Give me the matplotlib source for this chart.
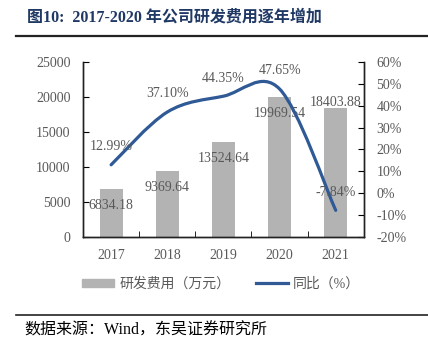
import matplotlib
matplotlib.use("Agg")
import matplotlib.pyplot as plt
import numpy as np
from matplotlib.path import Path
from matplotlib.patches import PathPatch, Patch
from matplotlib.lines import Line2D

years = ["2017", "2018", "2019", "2020", "2021"]
rd_cost = [6834.18, 9369.64, 13524.64, 19969.54, 18403.88]
yoy = [12.99, 37.10, 44.35, 47.65, -7.84]
bar_labels = ["6834.18", "9369.64", "13524.64", "19969.54", "18403.88"]
yoy_labels = ["12.99%", "37.10%", "44.35%", "47.65%", "-7.84%"]

plt.rcParams['font.family'] = ['Liberation Serif', 'Noto Sans CJK SC']
bar_color = "#b3b3b3"
line_color = "#2f5a96"
gray_txt = "#595959"

fig = plt.figure(figsize=(4.28, 3.5), dpi=100)
ax = fig.add_axes([0.194, 0.323, 0.656, 0.500])
ax2 = ax.twinx()

x = np.arange(len(years))
ax.bar(x, rd_cost, width=0.41, color=bar_color, zorder=2)
ax.set_xlim(-0.5, 4.5)
ax.set_ylim(0, 25000)
ax.set_yticks(range(0, 25001, 5000))
ax.set_xticks(x)
ax.set_xticklabels(years)
ax.set_xticks(np.arange(0.5, 4.5, 1), minor=True)
ax.tick_params(axis='x', which='major', length=0, pad=9, labelsize=10, labelcolor=gray_txt)
ax.tick_params(axis='x', which='minor', length=4, direction='in')
ax.tick_params(axis='y', direction='in', length=4, pad=9, labelsize=10, labelcolor=gray_txt)

ax2.set_ylim(-20, 60)
ax2.set_yticks(range(-20, 61, 10))
ax2.set_yticklabels([f"{v}%" for v in range(-20, 61, 10)])
ax2.tick_params(axis='y', direction='in', length=4, pad=9, labelsize=10, labelcolor=gray_txt)

for a in (ax, ax2):
    a.spines['top'].set_visible(False)
    for s in ('left', 'right', 'bottom'):
        a.spines[s].set_color('#222222')
        a.spines[s].set_linewidth(1.0)

# smoothed line (Excel-style bezier through the points)
pts = np.column_stack([x, yoy]).astype(float)
verts = [pts[0]]
codes = [Path.MOVETO]
n = len(pts)
for i in range(n - 1):
    p0 = pts[i - 1] if i > 0 else pts[i]
    p1 = pts[i]
    p2 = pts[i + 1]
    p3 = pts[i + 2] if i + 2 < n else pts[i + 1]
    c1 = p1 + (p2 - p0) / 6
    c2 = p2 - (p3 - p1) / 6
    verts += [c1, c2, p2]
    codes += [Path.CURVE4] * 3
ax2.add_patch(PathPatch(Path(verts, codes), facecolor='none', edgecolor=line_color,
                        lw=2.3, capstyle='round', zorder=3))

for i in range(n):
    off = 4 if i == 4 else -11.5
    ax.annotate(bar_labels[i], (x[i], rd_cost[i]), xytext=(0, off), textcoords='offset points',
                ha='center', va='center', fontsize=10, color=gray_txt, zorder=5)
    ax2.annotate(yoy_labels[i], (x[i], yoy[i]), xytext=(0, 13), textcoords='offset points',
                 ha='center', va='center', fontsize=10, color=gray_txt, zorder=5)

handles = [Patch(color=bar_color), Line2D([], [], color=line_color, lw=2.3)]
fig.legend(handles, ["研发费用（万元）", "同比（%）"], loc='center', bbox_to_anchor=(0.517, 0.189),
           ncol=2, frameon=False, fontsize=10, labelcolor=gray_txt, handlelength=2.3,
           handleheight=0.5, handletextpad=0.4, columnspacing=1.8)

fig.text(0.063, 0.951, "图10:  2017-2020 年公司研发费用逐年增加", fontsize=11.5, fontweight='bold',
         color="#1f3864", ha='left', va='center')
fig.add_artist(Line2D([0.037, 1.0], [0.897, 0.897], color='#222222', lw=1.6))
fig.add_artist(Line2D([0.037, 1.0], [0.100, 0.100], color='#222222', lw=1.2))
fig.text(0.058, 0.057, "数据来源：Wind，东吴证券研究所", fontsize=11.5, color='black', ha='left', va='center')

fig.savefig("out.png", dpi=100)
